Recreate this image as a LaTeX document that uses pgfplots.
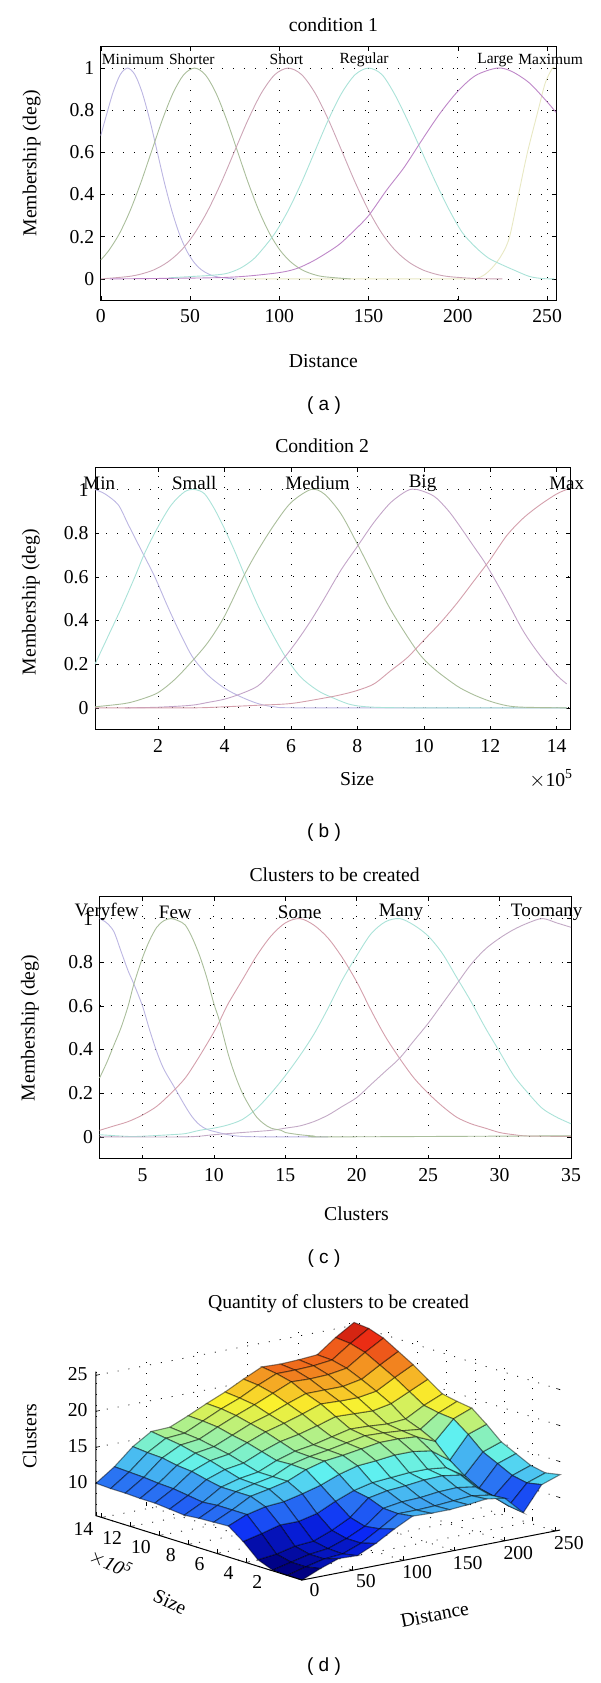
\documentclass[border=0pt]{standalone}
\usepackage{pgfplots}
\pgfplotsset{compat=1.18}
\usepackage{fontspec}
\setmainfont{Liberation Serif}
\newfontfamily\capfont{Liberation Sans}
\newcommand{\fs}{\fontsize{19.7}{22}\selectfont}
\newcommand{\fl}{\fontsize{15.5}{18}\selectfont}
\newcommand{\fm}{\fontsize{19}{21}\selectfont}
\definecolor{ca1}{RGB}{188,182,226}\definecolor{ca2}{RGB}{170,190,155}\definecolor{ca3}{RGB}{205,165,182}
\definecolor{ca4}{RGB}{170,226,216}\definecolor{ca5}{RGB}{190,135,200}\definecolor{ca6}{RGB}{232,232,195}
\definecolor{cb4}{RGB}{195,165,200}\definecolor{cb5}{RGB}{212,160,172}\definecolor{cc5}{RGB}{195,170,198}
\pgfplotsset{
 memb/.style={
  scale only axis, anchor=north west, clip=false,
  /pgf/number format/assume math mode=true,
  font=\fs, tick style={black,line width=.6pt}, major tick length=4pt,
  axis line style={black,line width=1pt}, tick align=inside, tickpos=both,
  xticklabel pos=lower, yticklabel pos=left,
  grid=major, grid style={black,line width=.8pt,dash pattern=on 1pt off 10pt},
  ymin=-0.1, ymax=1.1, ytick={0,0.2,0.4,0.6,0.8,1},
  yticklabels={0,0.2,0.4,0.6,0.8,1},
  title style={font=\fs,anchor=center},
  xlabel style={font=\fs,anchor=center},
  ylabel style={font=\fs,anchor=center,rotate=0},
  ylabel={Membership (deg)},
  xticklabel style={yshift=-6pt}, yticklabel style={xshift=-3pt},
 },
 cv/.style={color=#1,line width=.9pt,smooth,no marks},
}
\begin{document}
\begin{tikzpicture}
\path[use as bounding box] (0pt,0pt) rectangle (600pt,-1683pt);

% ---------- (a)
\begin{axis}[memb, at={(100.8pt,-47pt)}, width=455.2pt, height=253pt,
 xmin=0, xmax=255, xtick={0,50,100,150,200,250},
 title={condition 1}, xlabel={Distance},
 every axis title/.append style={at={(axis description cs:0.511,1.063)}},
 every axis x label/.append style={at={(axis description cs:0.489,-0.241)}},
 every axis y label/.append style={at={(axis description cs:-0.152,0.54)}},
]
\addplot[cv=ca6] coordinates {(75,0)(140,0)(200,0)(210,0.002)(215,0.02)(220,0.06)(225,0.12)(229,0.2)(234,0.4)(239,0.6)(245,0.8)(249,0.93)(253,1)(254,1)};
\addplot[cv=ca1] coordinates {(0,0.68)(2.6,0.76)(6.75,0.882)(10.9,0.969)(15,1)(19.1,0.969)(23.25,0.882)(27.4,0.755)(31.5,0.607)(35.6,0.458)(39.75,0.325)(43.9,0.216)(48,0.135)(52.1,0.08)(56.25,0.044)(60.4,0.023)(64.5,0.011)(72,0.002)(76,0)};
\addplot[cv=ca2] coordinates {(0,0.09)(4.5,0.135)(10.5,0.216)(16.5,0.325)(22.5,0.458)(28.5,0.607)(34.5,0.755)(40.5,0.882)(46.5,0.969)(52.5,1)(58.5,0.969)(64.5,0.882)(70.5,0.755)(76.5,0.607)(82.5,0.458)(88.5,0.325)(94.5,0.216)(100.5,0.135)(106.5,0.08)(112.5,0.044)(118.5,0.023)(124.5,0.011)(136.5,0.002)(140,0)};
\addplot[cv=ca3] coordinates {(0,0)(15,0.011)(22.5,0.023)(30,0.044)(37.5,0.08)(45,0.135)(52.5,0.216)(60,0.325)(67.5,0.458)(75,0.607)(82.5,0.755)(90,0.882)(97.5,0.969)(105,1)(112.5,0.969)(120,0.882)(127.5,0.755)(135,0.607)(142.5,0.458)(150,0.325)(157.5,0.216)(165,0.135)(172.5,0.08)(180,0.044)(187.5,0.023)(195,0.011)(210,0.002)(225,0)};
\addplot[cv=ca4] coordinates {(38,0.005)(52,0.012)(60,0.016)(70,0.025)(78,0.05)(85,0.09)(90,0.135)(97.5,0.216)(105,0.325)(112.5,0.458)(120,0.607)(127.5,0.755)(135,0.882)(142.5,0.969)(150,1)(157.5,0.969)(165,0.87)(172.5,0.74)(180,0.6)(187.5,0.46)(195,0.33)(202.5,0.22)(210,0.15)(217,0.1)(224,0.07)(232,0.04)(240,0.012)(247,0.002)(254,0)};
\addplot[cv=ca5] coordinates {(5,0)(60,0.005)(80,0.012)(100,0.03)(110,0.05)(120,0.09)(133,0.16)(142,0.23)(150,0.3)(160,0.42)(170,0.53)(180,0.66)(190,0.785)(200,0.89)(210,0.965)(222,1)(230,0.985)(240,0.93)(250,0.84)(255,0.79)};
\node[font=\fl] at (axis cs:18,1.04) {Minimum};
\node[font=\fl] at (axis cs:51,1.04) {Shorter};
\node[font=\fl] at (axis cs:104,1.04) {Short};
\node[font=\fl] at (axis cs:147.5,1.04) {Regular};
\node[font=\fl] at (axis cs:221,1.04) {Large};
\node[font=\fl] at (axis cs:252,1.04) {Maximum};
\end{axis}
\node[font=\capfont\fm] at (324pt,-406pt) {( a )};

% ---------- (b)
\begin{axis}[memb, at={(95pt,-467.7pt)}, width=475pt, height=262pt,
 xmin=0.1, xmax=14.4, xtick={2,4,6,8,10,12,14},
 title={Condition 2}, xlabel={Size},
 every axis title/.append style={at={(axis description cs:0.478,1.06)}},
 every axis x label/.append style={at={(axis description cs:0.552,-0.188)}},
 every axis y label/.append style={at={(axis description cs:-0.135,0.487)}},
]
\addplot[cv=ca1] coordinates {(0.1,1)(0.4,0.98)(0.8,0.93)(1.1,0.84)(1.5,0.72)(1.9,0.6)(2.3,0.46)(2.7,0.33)(3.05,0.23)(3.5,0.15)(4,0.09)(4.5,0.05)(5,0.02)(5.5,0.005)(6.5,0)(14.3,0)};
\addplot[cv=ca4] coordinates {(0.1,0.2)(0.5,0.33)(0.9,0.46)(1.3,0.6)(1.6,0.71)(2,0.83)(2.4,0.93)(2.8,0.99)(3.1,1)(3.4,0.98)(3.7,0.91)(4,0.82)(4.3,0.72)(4.6,0.61)(5,0.47)(5.4,0.35)(5.85,0.23)(6.3,0.14)(6.8,0.08)(7.2,0.05)(7.8,0.015)(8.5,0.003)(10,0)(14.3,0)};
\addplot[cv=ca2] coordinates {(0.1,0.005)(1,0.02)(1.5,0.04)(2,0.07)(2.5,0.13)(3,0.21)(3.5,0.3)(4,0.42)(4.6,0.61)(5,0.72)(5.5,0.84)(6,0.94)(6.6,1)(7,0.98)(7.5,0.89)(8,0.75)(8.5,0.6)(9,0.45)(9.8,0.26)(10.3,0.18)(11,0.1)(11.5,0.06)(12,0.03)(12.5,0.01)(13,0.003)(14.3,0)};
\addplot[cv=cb4] coordinates {(1,0)(2,0.003)(3,0.012)(3.5,0.025)(4,0.04)(4.5,0.065)(5,0.1)(5.4,0.16)(5.8,0.23)(6.2,0.31)(6.6,0.4)(7,0.5)(7.5,0.63)(8,0.74)(8.5,0.85)(9,0.94)(9.5,0.995)(9.8,1)(10.3,0.97)(10.7,0.91)(11,0.85)(11.5,0.74)(11.9,0.65)(12.5,0.49)(13,0.35)(13.5,0.24)(14,0.15)(14.3,0.11)};
\addplot[cv=cb5] coordinates {(0.1,0)(3,0)(4,0.005)(5,0.012)(6,0.02)(7,0.045)(7.5,0.06)(8,0.08)(8.5,0.11)(9,0.17)(9.5,0.23)(10,0.31)(10.5,0.39)(11,0.48)(11.5,0.58)(12,0.68)(12.5,0.79)(13,0.87)(13.5,0.93)(14,0.98)(14.3,1)};
\node[font=\fm] at (axis cs:0.23,1.03) {Min};
\node[font=\fm] at (axis cs:3.09,1.03) {Small};
\node[font=\fm] at (axis cs:6.8,1.03) {Medium};
\node[font=\fm] at (axis cs:9.96,1.03) {Big};
\node[font=\fm] at (axis cs:14.3,1.03) {Max};
\end{axis}
\node[font=\fs] at (551pt,-779pt) {\(\times\)10\textsuperscript{5}};
\node[font=\capfont\fm] at (324pt,-833pt) {( b )};

% ---------- (c)
\begin{axis}[memb, at={(99.6pt,-896.7pt)}, width=471.4pt, height=262pt,
 xmin=2, xmax=35, xtick={5,10,15,20,25,30,35},
 title={Clusters to be created}, xlabel={Clusters},
 every axis title/.append style={at={(axis description cs:0.4985,1.06)}},
 every axis x label/.append style={at={(axis description cs:0.545,-0.211)}},
 every axis y label/.append style={at={(axis description cs:-0.148,0.499)}},
]
\addplot[cv=ca1] coordinates {(2,1)(2.5,0.98)(3,0.94)(3.5,0.85)(4,0.76)(4.4,0.7)(5,0.6)(5.5,0.49)(6,0.39)(6.5,0.31)(7.3,0.22)(8,0.14)(8.5,0.09)(9,0.055)(9.5,0.035)(10,0.025)(11,0.01)(12,0.002)(14,0)(18,0)};
\addplot[cv=ca4] coordinates {(2,0.01)(4,0.002)(5,0.003)(7,0.01)(8,0.015)(9,0.03)(10,0.04)(11,0.055)(12,0.08)(13,0.13)(14,0.2)(15,0.28)(16,0.37)(17,0.47)(18,0.59)(19,0.72)(20,0.83)(21,0.93)(22,0.985)(23,1)(24,0.97)(25,0.92)(26,0.84)(27,0.73)(28,0.62)(29,0.5)(30,0.39)(31,0.28)(32,0.2)(33,0.13)(34,0.09)(35,0.06)};
\addplot[cv=cb5] coordinates {(2,0.03)(3,0.05)(4,0.07)(5,0.1)(6,0.14)(7,0.2)(8,0.27)(9,0.37)(10,0.48)(10.4,0.53)(11,0.61)(12,0.72)(13,0.83)(14,0.92)(15,0.98)(16,1)(17,0.97)(18,0.91)(19,0.82)(20,0.71)(21,0.58)(22,0.46)(23,0.36)(24,0.27)(25,0.2)(26,0.14)(27,0.09)(28,0.06)(29,0.04)(30,0.02)(31,0.01)(32,0.004)(35,0.002)};
\addplot[cv=cc5] coordinates {(2,0)(8,0)(10,0.01)(12,0.02)(14,0.03)(15,0.04)(16,0.05)(17,0.07)(18,0.1)(19,0.14)(20,0.18)(21,0.24)(22,0.3)(23,0.36)(24,0.44)(25,0.52)(26,0.61)(27,0.7)(28,0.79)(29,0.86)(30,0.91)(31,0.95)(32,0.98)(33,1)(34,0.98)(35,0.96)};
\addplot[cv=ca2] coordinates {(2,0.27)(2.5,0.34)(3,0.42)(3.5,0.5)(4,0.6)(4.4,0.7)(5,0.82)(5.5,0.9)(6,0.96)(6.5,0.99)(7,1)(7.5,0.99)(8,0.97)(8.5,0.91)(9,0.83)(9.5,0.73)(10,0.61)(10.4,0.53)(11,0.38)(11.5,0.28)(12,0.2)(12.5,0.14)(13,0.09)(13.5,0.06)(14,0.04)(14.7,0.03)(15,0.02)(16,0.01)(17,0.004)(18,0)(35,0.005)};
\node[font=\fm] at (axis cs:2.5,1.03) {Veryfew};
\node[font=\fm] at (axis cs:7.3,1.03) {Few};
\node[font=\fm] at (axis cs:16,1.03) {Some};
\node[font=\fm] at (axis cs:23.1,1.03) {Many};
\node[font=\fm] at (axis cs:33.3,1.03) {Toomany};
\end{axis}
\node[font=\capfont\fm] at (324pt,-1259pt) {( c )};

% ---------- (d)
\begin{axis}[at={(96pt,-1580pt)}, anchor=south west,
 x={(1.012pt,0.196pt)}, y={(-14.41pt,4.5pt)}, z={(0pt,7.2pt)},
 xmin=0, xmax=255, ymin=0.1, ymax=14.4, zmin=5.5, zmax=25.5,
 clip=false,
 /pgf/number format/assume math mode=true,
 font=\fs,
 xtick={0,50,100,150,200,250}, ytick={2,4,6,8,10,12,14}, ztick={10,15,20,25},
 tickpos=left,
 xticklabel style={xshift=5pt}, yticklabel style={xshift=-9pt}, zticklabel style={xshift=-5pt},
 grid=major, grid style={black,line width=.8pt,dash pattern=on 1pt off 10pt},
 axis line style={draw=none},
 tick style={black,line width=.6pt}, major tick length=4pt,
 title={Quantity of clusters to be created},
 every axis title/.style={at={(axis cs:36,0.1,42.9)},anchor=center,font=\fs},
 zlabel={Clusters},
 every axis z label/.style={at={(axis cs:0,19,13.7)},rotate=90,anchor=center,font=\fs},
 colormap={refjet}{[1cm] rgb255(0cm)=(0,0,130) rgb255(1cm)=(10,40,245) rgb255(3cm)=(95,240,240) rgb255(5cm)=(250,240,45) rgb255(7cm)=(235,45,20) rgb255(8cm)=(140,10,10)},
 point meta min=5.5, point meta max=25.5,
]
\addplot3[surf, shader=flat corner, z buffer=sort, mesh/rows=15, mesh/cols=15,
 draw=black, draw opacity=0.45, line width=1.1pt, point meta=z] coordinates {
(0,0.1,5.5)(18.2,0.1,6.6)(36.4,0.1,7.5)(54.6,0.1,7.4)(72.9,0.1,8.6)(91.1,0.1,10.1)(109.3,0.1,11.4)(127.5,0.1,11.3)(145.7,0.1,11.3)(163.9,0.1,11.5)(182.1,0.1,11.8)(200.4,0.1,11.4)(218.6,0.1,8.9)(236.8,0.1,12.3)(255,0.1,13.2)
(0,1.12,5.5)(18.2,1.12,6.2)(36.4,1.12,6.8)(54.6,1.12,7)(72.9,1.12,8)(91.1,1.12,9.5)(109.3,1.12,11.1)(127.5,1.12,11.1)(145.7,1.12,11.2)(163.9,1.12,11.4)(182.1,1.12,11.6)(200.4,1.12,11.2)(218.6,1.12,9.2)(236.8,1.12,11.9)(255,1.12,12.8)
(0,2.14,5.6)(18.2,2.14,6.2)(36.4,2.14,6.8)(54.6,2.14,7.1)(72.9,2.14,8)(91.1,2.14,9.2)(109.3,2.14,11.2)(127.5,2.14,11.6)(145.7,2.14,11.7)(163.9,2.14,12)(182.1,2.14,12.1)(200.4,2.14,11.7)(218.6,2.14,9.9)(236.8,2.14,12.3)(255,2.14,13.2)
(0,3.16,6.4)(18.2,3.16,6.7)(36.4,3.16,7.3)(54.6,3.16,7.5)(72.9,3.16,8.5)(91.1,3.16,9.8)(109.3,3.16,12)(127.5,3.16,12.5)(145.7,3.16,12.7)(163.9,3.16,13)(182.1,3.16,13.1)(200.4,3.16,12.7)(218.6,3.16,10.4)(236.8,3.16,13.3)(255,3.16,14.2)
(0,4.19,8.3)(18.2,4.19,8.9)(36.4,4.19,9.6)(54.6,4.19,9.6)(72.9,4.19,10.2)(91.1,4.19,11.4)(109.3,4.19,12.4)(127.5,4.19,13)(145.7,4.19,13.2)(163.9,4.19,13.4)(182.1,4.19,13.4)(200.4,4.19,13.1)(218.6,4.19,11.5)(236.8,4.19,14.3)(255,4.19,15.2)
(0,5.21,9.8)(18.2,5.21,10.9)(36.4,5.21,11.5)(54.6,5.21,11.7)(72.9,5.21,12.3)(91.1,5.21,13)(109.3,5.21,14)(127.5,5.21,14.7)(145.7,5.21,14.9)(163.9,5.21,15.2)(182.1,5.21,15.2)(200.4,5.21,14.8)(218.6,5.21,13)(236.8,5.21,16.1)(255,5.21,17)
(0,6.23,9.7)(18.2,6.23,10.9)(36.4,6.23,12.3)(54.6,6.23,12.8)(72.9,6.23,13.4)(91.1,6.23,14.5)(109.3,6.23,15.2)(127.5,6.23,15.5)(145.7,6.23,15.9)(163.9,6.23,16.3)(182.1,6.23,16.3)(200.4,6.23,16.1)(218.6,6.23,15)(236.8,6.23,17.6)(255,6.23,18.6)
(0,7.25,9.6)(18.2,7.25,10.9)(36.4,7.25,12.3)(54.6,7.25,12.9)(72.9,7.25,13.4)(91.1,7.25,14.6)(109.3,7.25,15.2)(127.5,7.25,15.6)(145.7,7.25,16.1)(163.9,7.25,16.6)(182.1,7.25,16.5)(200.4,7.25,16.3)(218.6,7.25,16)(236.8,7.25,17.8)(255,7.25,18.9)
(0,8.27,9.4)(18.2,8.27,10.7)(36.4,8.27,12.3)(54.6,8.27,13)(72.9,8.27,13.4)(91.1,8.27,14.5)(109.3,8.27,15.3)(127.5,8.27,15.7)(145.7,8.27,16.3)(163.9,8.27,16.9)(182.1,8.27,16.8)(200.4,8.27,16.6)(218.6,8.27,16.8)(236.8,8.27,18.2)(255,8.27,19.3)
(0,9.29,9.6)(18.2,9.29,11)(36.4,9.29,12.7)(54.6,9.29,13.6)(72.9,9.29,14)(91.1,9.29,15.1)(109.3,9.29,16)(127.5,9.29,16.5)(145.7,9.29,17.2)(163.9,9.29,18)(182.1,9.29,17.9)(200.4,9.29,17.8)(218.6,9.29,18.3)(236.8,9.29,19.5)(255,9.29,20.7)
(0,10.31,9.8)(18.2,10.31,11.3)(36.4,10.31,13.2)(54.6,10.31,14.2)(72.9,10.31,14.6)(91.1,10.31,15.7)(109.3,10.31,16.7)(127.5,10.31,17.4)(145.7,10.31,18.2)(163.9,10.31,19.1)(182.1,10.31,19)(200.4,10.31,19)(218.6,10.31,19.4)(236.8,10.31,20.8)(255,10.31,22.1)
(0,11.34,9.8)(18.2,11.34,11.4)(36.4,11.34,13.4)(54.6,11.34,14.6)(72.9,11.34,15)(91.1,11.34,16.1)(109.3,11.34,17.2)(127.5,11.34,18)(145.7,11.34,19)(163.9,11.34,19.9)(182.1,11.34,19.9)(200.4,11.34,19.9)(218.6,11.34,20.4)(236.8,11.34,21.9)(255,11.34,23.3)
(0,12.36,9.9)(18.2,12.36,11.6)(36.4,12.36,13.8)(54.6,12.36,15.1)(72.9,12.36,15.4)(91.1,12.36,16.6)(109.3,12.36,17.7)(127.5,12.36,18.7)(145.7,12.36,19.8)(163.9,12.36,20.9)(182.1,12.36,20.8)(200.4,12.36,20.9)(218.6,12.36,21.3)(236.8,12.36,23)(255,12.36,24.5)
(0,13.38,9.9)(18.2,13.38,11.7)(36.4,13.38,13.9)(54.6,13.38,15.4)(72.9,13.38,15.6)(91.1,13.38,16.8)(109.3,13.38,18)(127.5,13.38,19)(145.7,13.38,20.3)(163.9,13.38,21.4)(182.1,13.38,21.4)(200.4,13.38,21.5)(218.6,13.38,21.8)(236.8,13.38,23.6)(255,13.38,25.2)
(0,14.4,10)(18.2,14.4,11.8)(36.4,14.4,14.1)(54.6,14.4,15.7)(72.9,14.4,15.8)(91.1,14.4,16.9)(109.3,14.4,18.1)(127.5,14.4,19.2)(145.7,14.4,20.5)(163.9,14.4,21.7)(182.1,14.4,21.6)(200.4,14.4,21.7)(218.6,14.4,21.9)(236.8,14.4,23.8)(255,14.4,25.4)
};
\draw[black,line width=1pt] (axis cs:0,14.4,25.5) -- (axis cs:0,14.4,5.5) -- (axis cs:0,0.1,5.5) -- (axis cs:255,0.1,5.5);
\node[font=\fs,rotate=-25] at (axis cs:-123.4,0.6,5.5) {Size};
\node[font=\fs,rotate=11] at (axis cs:12.8,-8.2,5.5) {Distance};
\node[font=\fs,rotate=-25] at (axis cs:-83.9,7.5,5.5) {\(\times\)\textit{10\textsuperscript{5}}};
\end{axis}
\node[font=\capfont\fm] at (324pt,-1667pt) {( d )};
\end{tikzpicture}
\end{document}
